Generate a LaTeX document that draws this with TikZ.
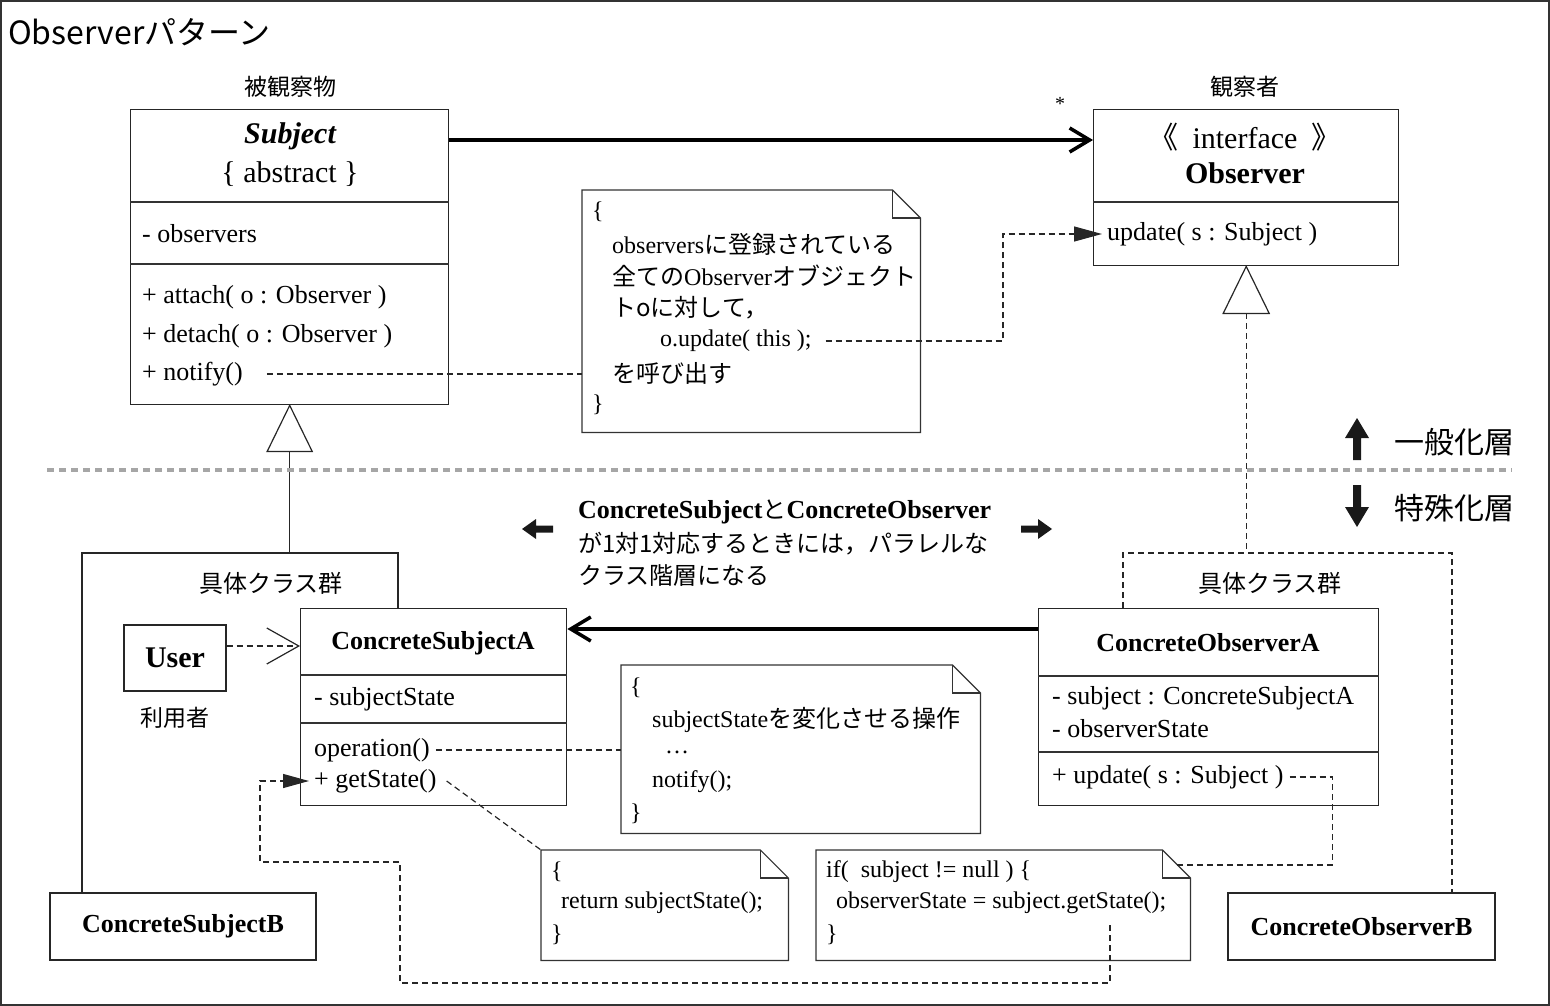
\documentclass[tikz,border=0pt]{standalone}
\usepackage{fontspec}
\setmainfont{Liberation Serif}
\newfontfamily\jp{Noto Sans CJK JP}
\usetikzlibrary{arrows.meta,calc}
\newcommand\fsz[1]{\fontsize{#1}{#1}\selectfont}
\newcommand\dogear[2]{%
  \draw[notepath] (#1.south west) -- (#1.north west) -- ([xshift=-#2pt]#1.north east) -- ([yshift=-#2pt]#1.north east) -- (#1.south east) -- cycle;
  \draw[notepath] ([xshift=-#2pt]#1.north east) -- ([xshift=-#2pt,yshift=-#2pt]#1.north east) -- ([yshift=-#2pt]#1.north east);}
\begin{document}
\begin{tikzpicture}[x=1pt,y=-1pt,
  cls/.style={draw=black!85, line width=1.4pt, anchor=north west, inner sep=0pt},
  sbox/.style={draw=black!85, line width=1.4pt, inner sep=0pt},
  sepline/.style={line width=1.2pt, draw=black!80},
  t/.style={inner sep=0pt, anchor=west, font=\fsz{26}},
  tc/.style={inner sep=0pt, font=\fsz{26}},
  jl/.style={inner sep=0pt, font=\jp\fsz{23}},
  notebox/.style={anchor=north west, inner sep=0pt},
  notepath/.style={draw=black!80, line width=1.2pt},
  nt/.style={inner sep=0pt, anchor=west, font=\fsz{24}},
  dline/.style={line width=1.2pt, draw=black!85, dash pattern=on 6pt off 4pt},
  sline/.style={line width=1.4pt, draw=black!85},
  assoc/.style={line width=3.5pt, -{Straight Barb[length=20pt,width=24pt]}},
  gen/.style={line width=1.2pt, draw=black!85, fill=white},
  ftip/.style={-{Triangle[length=28pt,width=15pt]}}
]
\useasboundingbox (0,0) rectangle (1550,1006);
\draw[line width=2pt, draw=black!80] (1,1) rectangle (1549,1005);

\node[anchor=west, inner sep=0pt, font=\jp\fsz{32}] (title) at (8,32) {Observerパターン};

% ---------- Subject ----------
\node[cls, minimum width=318, minimum height=295] (subj) at (130,109) {};
\draw[sepline] ([yshift=-93pt]subj.north west) -- ([yshift=-93pt]subj.north east);
\draw[sepline] ([yshift=-155pt]subj.north west) -- ([yshift=-155pt]subj.north east);
\node[tc, font=\fsz{30}\bfseries\itshape] (subjname) at (290,136) {Subject};
\node[tc, font=\fsz{30}] (subjabs) at (290,174) {\{ abstract \}};
\node[t] (sobs) at (142,234) {- observers};
\node[t] (satt) at (142,297) {+ attach( o : Observer )};
\node[t] (sdet) at (142,336) {+ detach( o : Observer )};
\node[t] (snot) at (142,374) {+ notify()};
\node[jl] (lsubj) at (290,87) {被観察物};

% ---------- Observer ----------
\node[cls, minimum width=305, minimum height=156] (obs) at (1093,109) {};
\draw[sepline] ([yshift=-93pt]obs.north west) -- ([yshift=-93pt]obs.north east);
\node[tc, font=\fsz{30}] (ster) at (1245,137) {{\jp《}\hspace{14pt}interface\hspace{14pt}{\jp》}};
\node[tc, font=\fsz{30}\bfseries] (obsname) at (1245,173) {Observer};
\node[t] (oupd) at (1107,234) {update( s : Subject )};
\node[jl] (lobs) at (1245,87) {観察者};

\draw[assoc] ([yshift=-31pt]subj.north east) -- ([yshift=-31pt]obs.north west);
\node[inner sep=0pt, font=\fsz{20}] (star) at (1060,104) {*};

% ---------- Note 1 ----------
\node[notebox, minimum width=338, minimum height=242] (n1) at (582,190) {};
\dogear{n1}{28}
\node[nt] (n1a) at (592,212) {\{};
\node[nt] (n1b) at (612,244) {observers{\jp に登録されている}};
\node[nt] (n1c) at (612,276) {{\jp 全ての}Observer{\jp オブジェクト}};
\node[nt, font=\jp\fsz{24}] (n1d) at (612,308) {トoに対して，};
\node[nt] (n1ou) at (660,341) {o.update( this );};
\node[nt, font=\jp\fsz{24}] (n1e) at (612,373) {を呼び出す};
\node[nt] (n1f) at (592,405) {\}};

\draw[dline] ([xshift=24pt]snot.east) -- (n1.west |- snot.east);
\draw[dline, ftip, shorten >=5pt] ([xshift=14pt]n1ou.east) -| ([xshift=-104pt]oupd.west) -- (oupd.west);

% ---------- generalization ----------
\coordinate (lgTL) at (82,553);
\coordinate (lgTR) at (398,553);
\coordinate (rgTL) at (1123,553);
\coordinate (rgTR) at (1452,553);
\draw[gen] (subj.south) -- ++(-22.5,46) -- ++(45,0) -- cycle;
\draw[sline] ([yshift=-46pt]subj.south) -- (subj.south |- lgTL);
\draw[gen] (obs.south) -- ++(-23,47) -- ++(46,0) -- cycle;
\draw[dline] ([yshift=-47pt]obs.south) -- (obs.south |- rgTL);

% ---------- layer separator ----------
\draw[draw=black!35, line width=4pt, dash pattern=on 7pt off 5pt] (47,470) -- (1512,470);
\fill[black!90] (1357,418) -- (1369,438) -- (1361,438) -- (1361,460) -- (1353,460) -- (1353,438) -- (1345,438) -- cycle;
\fill[black!90] (1357,527) -- (1369,507) -- (1361,507) -- (1361,485) -- (1353,485) -- (1353,507) -- (1345,507) -- cycle;
\node[anchor=west, inner sep=0pt, font=\jp\fsz{30}] (lgen) at (1394,442) {一般化層};
\node[anchor=west, inner sep=0pt, font=\jp\fsz{30}] (lspe) at (1394,508) {特殊化層};

% ---------- middle text ----------
\node[anchor=west, inner sep=0pt, font=\fsz{26}\bfseries] (mt1) at (578,512) {ConcreteSubject{\jp\mdseries\fsz{24}と}ConcreteObserver};
\node[anchor=west, inner sep=0pt, font=\jp\fsz{24}] (mt2) at (578,544) {が1対1対応するときには，パラレルな};
\node[anchor=west, inner sep=0pt, font=\jp\fsz{24}] (mt3) at (578,576) {クラス階層になる};
\fill[black!90] (522,529) -- (536,519) -- (536,525.5) -- (553,525.5) -- (553,532.5) -- (536,532.5) -- (536,539) -- cycle;
\fill[black!90] (1052,529) -- (1038,519) -- (1038,525.5) -- (1021,525.5) -- (1021,532.5) -- (1038,532.5) -- (1038,539) -- cycle;

% ---------- ConcreteSubjectA ----------
\node[cls, minimum width=266, minimum height=197] (csa) at (300,608) {};
\draw[sepline] ([yshift=-67pt]csa.north west) -- ([yshift=-67pt]csa.north east);
\draw[sepline] ([yshift=-115pt]csa.north west) -- ([yshift=-115pt]csa.north east);
\node[tc, font=\fsz{26}\bfseries] (csaname) at (433,643) {ConcreteSubjectA};
\node[t] (csast) at (314,699) {- subjectState};
\node[t] (csop) at (314,750) {operation()};
\node[t] (csgs) at (314,781) {+ getState()};

% ---------- ConcreteObserverA ----------
\node[cls, minimum width=340, minimum height=197] (coa) at (1038,608) {};
\draw[sepline] ([yshift=-68pt]coa.north west) -- ([yshift=-68pt]coa.north east);
\draw[sepline] ([yshift=-144pt]coa.north west) -- ([yshift=-144pt]coa.north east);
\node[tc, font=\fsz{26}\bfseries] (coaname) at (1208,643) {ConcreteObserverA};
\node[t] (coas) at (1052,698) {- subject : ConcreteSubjectA};
\node[t] (coao) at (1052,729) {- observerState};
\node[t] (coau) at (1052,777) {+ update( s : Subject )};

\draw[assoc] ([yshift=-21pt]coa.north west) -- ([yshift=-21pt]csa.north east);

% ---------- B classes ----------
\node[sbox, minimum width=266, minimum height=67, font=\fsz{26}\bfseries] (csb) at (183,926.5) {ConcreteSubjectB};
\node[sbox, minimum width=267, minimum height=67, font=\fsz{26}\bfseries] (cob) at (1361.5,926.5) {ConcreteObserverB};

% ---------- groups ----------
\draw[sline] (lgTR |- csa.north) -- (lgTR) -- (lgTL) -- (lgTL |- csb.north);
\draw[dline] (rgTL |- coa.north) -- (rgTL) -- (rgTR) -- (rgTR |- cob.north);
\node[jl, font=\jp\fsz{24}] (lgl) at (271,583) {具体クラス群};
\node[jl, font=\jp\fsz{24}] (rgl) at (1270,583) {具体クラス群};

% ---------- User ----------
\node[sbox, minimum width=102, minimum height=66, font=\fsz{30}\bfseries] (user) at (175,658) {User};
\node[jl] (luser) at (175,718) {利用者};
\coordinate (ua) at ([yshift=12pt]user.east);
\draw[dline, -{Straight Barb[length=32pt,width=36pt]}] (ua) -- (csa.west |- ua);

% ---------- Note 2 ----------
\node[notebox, minimum width=359, minimum height=168] (n2) at (621,665) {};
\dogear{n2}{28}
\node[nt] (n2a) at (630,688) {\{};
\node[nt] (n2b) at (652,720) {subjectState{\jp を変化させる操作}};
\node[nt] (n2c) at (665,752) {…};
\node[nt] (n2d) at (652,782) {notify();};
\node[nt] (n2e) at (630,814) {\}};
\draw[dline] ([xshift=6pt]csop.east) -- (n2.west |- csop.east);

% ---------- Note 3 ----------
\node[notebox, minimum width=247, minimum height=110] (n3) at (541,850) {};
\dogear{n3}{28}
\node[nt] (n3a) at (551,872) {\{};
\node[nt] (n3b) at (561,903) {return subjectState();};
\node[nt] (n3c) at (551,935) {\}};
\draw[dline] ([xshift=10pt]csgs.east) -- (n3.north west);

% ---------- Note 4 ----------
\node[notebox, minimum width=374, minimum height=110] (n4) at (816,850) {};
\dogear{n4}{28}
\node[nt] (n4a) at (826,872) {if(\ \ subject != null ) \{};
\node[nt] (n4b) at (836,903) {observerState = subject.getState();};
\node[nt] (n4c) at (826,935) {\}};
\coordinate (n4fold) at ([xshift=-13pt,yshift=-15pt]n4.north east);
\coordinate (ubend) at ([xshift=-47pt]coa.east);
\draw[dline] ([xshift=6pt]coau.east) -| (ubend |- n4fold) -- (n4fold);
\coordinate (n4tap) at (1110,925);
\draw[dline, -{Triangle[length=26pt,width=14pt]}] (n4tap) -- (1110,983) -- (400,983) -- (400,862) -- (260,862) |- ([xshift=-5pt]csgs.west);
\end{tikzpicture}
\end{document}
